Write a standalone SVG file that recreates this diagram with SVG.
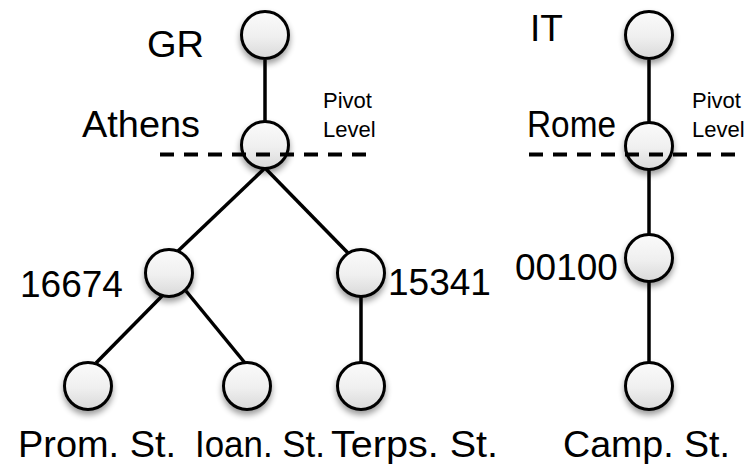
<svg xmlns="http://www.w3.org/2000/svg" width="756" height="464" viewBox="0 0 756 464">
  <defs>
    <linearGradient id="nodeFill" x1="0" y1="0" x2="0" y2="1">
      <stop offset="0" stop-color="#fbfbfb"/>
      <stop offset="0.55" stop-color="#efefef"/>
      <stop offset="1" stop-color="#d9d9d9"/>
    </linearGradient>
    <filter id="nodeShadow" x="-40%" y="-40%" width="180%" height="200%">
      <feGaussianBlur in="SourceAlpha" stdDeviation="3"/>
      <feOffset dx="0" dy="4" result="blur"/>
      <feComponentTransfer><feFuncA type="linear" slope="0.4"/></feComponentTransfer>
      <feMerge><feMergeNode/><feMergeNode in="SourceGraphic"/></feMerge>
    </filter>
  </defs>
  <style>
    .node circle { fill: url(#nodeFill); stroke: #000; stroke-width: 3; filter: url(#nodeShadow); }
    .edge { stroke: #000; stroke-width: 3.5; fill: none; }
    .pivot { stroke: #000; stroke-width: 4; stroke-dasharray: 14 10; fill: none; }
    .label { font-family: "Liberation Sans", Arial, sans-serif; font-size: 37px; fill: #000; }
    .small { font-family: "Liberation Sans", Arial, sans-serif; font-size: 22px; fill: #000; }
  </style>

  <rect width="756" height="464" fill="#fff"/>

  <!-- connectors -->
  <g id="edges">
    <line class="edge" x1="265" y1="60" x2="265" y2="122"/>
    <line class="edge" x1="265" y1="168" x2="178" y2="251"/>
    <line class="edge" x1="265" y1="168" x2="348" y2="253"/>
    <line class="edge" x1="162" y1="296" x2="96" y2="363"/>
    <line class="edge" x1="186" y1="291" x2="245" y2="363"/>
    <line class="edge" x1="361" y1="296" x2="361" y2="363"/>
    <line class="edge" x1="649" y1="60" x2="649" y2="122"/>
    <line class="edge" x1="649" y1="170" x2="649" y2="235"/>
    <line class="edge" x1="649" y1="282" x2="649" y2="363"/>
  </g>

  <!-- nodes -->
  <g id="node-gr" class="node"><circle cx="265" cy="35" r="23.5"/></g>
  <g id="node-athens" class="node"><circle cx="265" cy="145" r="23.5"/></g>
  <g id="node-16674" class="node"><circle cx="169" cy="273" r="23.5"/></g>
  <g id="node-15341" class="node"><circle cx="361" cy="273" r="23.5"/></g>
  <g id="node-prom" class="node"><circle cx="88" cy="386" r="23.5"/></g>
  <g id="node-ioan" class="node"><circle cx="247" cy="386" r="23.5"/></g>
  <g id="node-terps" class="node"><circle cx="361" cy="386" r="23.5"/></g>
  <g id="node-it" class="node"><circle cx="649" cy="35" r="23.5"/></g>
  <g id="node-rome" class="node"><circle cx="649" cy="146" r="23.5"/></g>
  <g id="node-00100" class="node"><circle cx="649" cy="258" r="23.5"/></g>
  <g id="node-camp" class="node"><circle cx="649" cy="386" r="23.5"/></g>

  <!-- pivot level lines -->
  <g id="pivot-lines">
    <line class="pivot" x1="160" y1="154.5" x2="370" y2="154.5"/>
    <line class="pivot" x1="529" y1="154.5" x2="739" y2="154.5"/>
  </g>

  <!-- labels -->
  <g id="labels">
    <text class="label" x="147" y="57" textLength="57" lengthAdjust="spacingAndGlyphs">GR</text>
    <text class="label" x="82" y="137" textLength="118" lengthAdjust="spacingAndGlyphs">Athens</text>
    <text class="label" x="530" y="41">IT</text>
    <text class="label" x="527" y="137" textLength="89" lengthAdjust="spacingAndGlyphs">Rome</text>
    <text class="label" x="20" y="297">16674</text>
    <text class="label" x="388" y="295">15341</text>
    <text class="label" x="515" y="280">00100</text>
    <text class="label" x="18" y="457" textLength="158" lengthAdjust="spacingAndGlyphs">Prom. St.</text>
    <text class="label" x="195" y="457" textLength="130" lengthAdjust="spacingAndGlyphs">Ioan. St.</text>
    <text class="label" x="331" y="457" textLength="167" lengthAdjust="spacingAndGlyphs">Terps. St.</text>
    <text class="label" x="563" y="457" textLength="167" lengthAdjust="spacingAndGlyphs">Camp. St.</text>
    <text class="small" x="323" y="108">Pivot</text>
    <text class="small" x="323" y="137">Level</text>
    <text class="small" x="692" y="108">Pivot</text>
    <text class="small" x="692" y="137">Level</text>
  </g>
</svg>
